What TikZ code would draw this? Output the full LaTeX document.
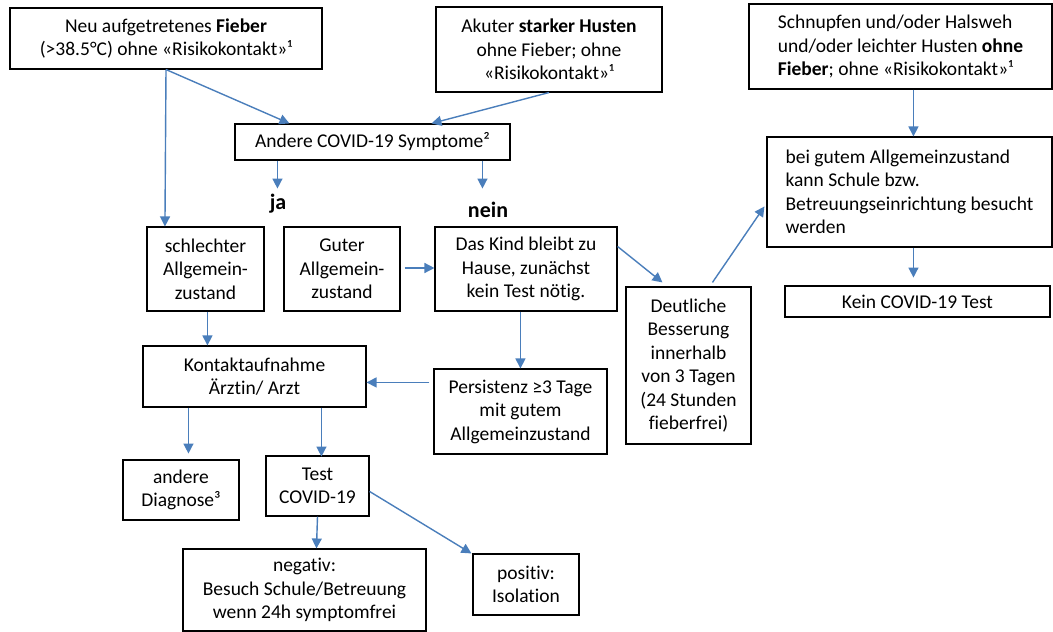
\documentclass[tikz,border=0pt]{standalone}
\usepackage{fontspec}
\setmainfont{Carlito}[Ligatures=NoCommon]
\usetikzlibrary{arrows.meta,calc}
\definecolor{arrowblue}{HTML}{4A7EBB}
\begin{document}
\begin{tikzpicture}[x=1pt,y=-1pt,
 box/.style={draw=black,line width=1.1pt,align=center,inner sep=0pt,font=\fontsize{19.5}{23.5}\selectfont},
 arr/.style={draw=arrowblue,line width=1.4pt,-{Triangle[length=10pt,width=10pt]}},
 lab/.style={font=\bfseries\fontsize{22}{26}\selectfont,inner sep=0pt}]
\useasboundingbox (0,0) rectangle (1053,632);

\node[box,minimum width=312pt,minimum height=61pt] (fieber) at (166,38.5) {Neu aufgetretenes \textbf{Fieber}\\(>38.5°C) ohne «Risikokontakt»¹};
\node[box,minimum width=226pt,minimum height=85pt] (akuter) at (549,49.5) {Akuter \textbf{starker Husten}\\ohne Fieber; ohne\\«Risikokontakt»¹};
\node[box,align=left,minimum width=303pt,minimum height=85pt] (schnupfen) at (900.5,46.5) {Schnupfen und/oder Halsweh\\und/oder leichter Husten \textbf{ohne}\\\textbf{Fieber}; ohne «Risikokontakt»¹};
\node[box,minimum width=275pt,minimum height=36pt] (andere) at (372.5,142) {Andere COVID-19 Symptome²};
\node[lab] (ja) at (278,204) {ja};
\node[lab] (nein) at (488,210) {nein};
\node[box,minimum width=117pt,minimum height=84pt] (schlecht) at (205.5,269) {schlechter\\Allgemein-\\zustand};
\node[box,minimum width=116pt,minimum height=84pt] (guter) at (342,269) {Guter\\Allgemein-\\zustand};
\node[box,minimum width=182pt,minimum height=84pt] (kind) at (526,269) {Das Kind bleibt zu\\Hause, zunächst\\kein Test nötig.};
\node[box,minimum width=223pt,minimum height=61pt] (kontakt) at (254.5,376.5) {Kontaktaufnahme\\Ärztin/ Arzt};
\node[box,minimum width=173pt,minimum height=85pt] (persist) at (520.5,411.5) {Persistenz ≥3 Tage\\mit gutem\\Allgemeinzustand};
\node[box,minimum width=125pt,minimum height=157pt] (deutlich) at (688.5,365.5) {Deutliche\\Besserung\\innerhalb\\von 3 Tagen\\(24 Stunden\\fieberfrei)};
\node[box,align=left,minimum width=285pt,minimum height=110pt] (besuch) at (909.5,192) {bei gutem Allgemeinzustand\\kann Schule bzw.\\Betreuungseinrichtung besucht\\werden};
\node[box,minimum width=265pt,minimum height=31pt] (kein) at (917.5,301.5) {Kein COVID-19 Test};
\node[box,minimum width=116pt,minimum height=60pt] (diag) at (181,490) {andere\\Diagnose³};
\node[box,minimum width=103pt,minimum height=60pt] (test) at (317.5,486) {Test\\COVID-19};
\node[box,minimum width=243pt,minimum height=82pt] (neg) at (304.5,590) {negativ:\\Besuch Schule/Betreuung\\wenn 24h symptomfrei};
\node[box,minimum width=106pt,minimum height=61pt] (pos) at (526,584.5) {positiv:\\Isolation};

\draw[arr] (fieber.south) -- ($(andere.north west)+(55,0)$);
\draw[arr] (fieber.south) -- ($(schlecht.north west)+(18.5,0)$);
\draw[arr] (akuter.south) -- ($(andere.north west)+(197,0)$);
\draw[arr] ($(andere.south west)+(43,0)$) -- ($(andere.south west)+(43,28)$);
\draw[arr] ($(andere.south west)+(248,0)$) -- ($(andere.south west)+(248,28)$);
\draw[arr] ($(guter.east)+(4,-1)$) -- ($(kind.west)+(0,-1)$);
\draw[arr] ($(kind.north east)+(0,20)$) -- ($(deutlich.north west)+(37,-4)$);
\draw[arr] ($(deutlich.north west)+(87,-4)$) -- ($(besuch.north west)+(-2,70)$);
\draw[arr] ($(schnupfen.south west)+(165,0)$) -- ($(besuch.north west)+(147,0)$);
\draw[arr] ($(besuch.south west)+(147,0)$) -- ($(besuch.south west)+(147,30)$);
\draw[arr] ($(schlecht.south west)+(61,0)$) -- ($(kontakt.north west)+(65,0)$);
\draw[arr] ($(kind.south west)+(86,0)$) -- ($(persist.north west)+(87,0)$);
\draw[arr] ($(persist.north west)+(-4,14)$) -- ($(kontakt.north east)+(0,37)$);
\draw[arr] ($(kontakt.south west)+(46,0)$) -- ($(kontakt.south west)+(46,46)$);
\draw[arr] ($(kontakt.south west)+(179,0)$) -- ($(kontakt.south west)+(179,49)$);
\draw[arr] (test.south) -- ($(neg.north west)+(134,0)$);
\draw[arr] ($(test.north east)+(0,36)$) -- ($(pos.north west)+(-1,0)$);
\end{tikzpicture}
\end{document}
